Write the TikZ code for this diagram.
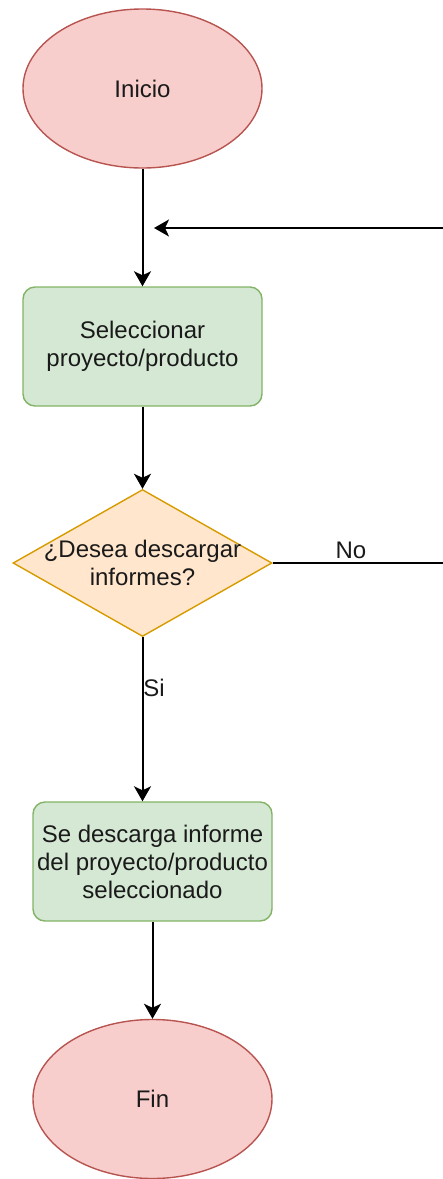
\documentclass[tikz,border=0pt]{standalone}
\usepackage{fontspec}
\setmainfont{Liberation Sans}
\usetikzlibrary{shapes.geometric,arrows.meta}
\definecolor{redfill}{HTML}{F8CECC}
\definecolor{redline}{HTML}{B85450}
\definecolor{greenfill}{HTML}{D5E8D4}
\definecolor{greenline}{HTML}{82B366}
\definecolor{orangefill}{HTML}{FFE6CC}
\definecolor{orangeline}{HTML}{D79B00}
\definecolor{txtcol}{HTML}{1A1A1A}
\begin{document}
\begin{tikzpicture}[x=0.5pt,y=-0.5pt,
 every node/.style={font=\fontsize{12}{14}\selectfont, text=txtcol},
 term/.style={ellipse, draw=redline, fill=redfill, line width=0.7pt, minimum width=119.5pt, minimum height=79.5pt, inner sep=0pt},
 procbox/.style={rectangle, rounded corners=6pt, draw=greenline, fill=greenfill, line width=0.7pt, minimum width=119.5pt, minimum height=59.5pt, align=center, inner sep=0pt},
 decision/.style={diamond, draw=orangeline, fill=orangefill, line width=0.7pt, minimum width=129.5pt, minimum height=73.5pt, inner sep=0pt, aspect=1.76},
 conn/.style={line width=1pt, black, -{Stealth[length=7.5pt,width=8.5pt,inset=2pt]}},
 plainline/.style={line width=1pt, black},
 lbl/.style={inner sep=0pt, align=center}]
\useasboundingbox (0,0) rectangle (443,1179);
\node[term] (inicio) at (142.5,88.5) {Inicio};
\node[procbox] (sel) at (142.5,346.5) {Seleccionar\\proyecto/producto};
\node[decision] (dec) at (142.5,563) {};
\node[lbl] (dectext) at (dec.center) {¿Desea descargar\\informes?};
\node[procbox] (desc) at (152.5,861.5) {Se descarga informe\\del proyecto/producto\\seleccionado};
\node[term] (fin) at (152.5,1099) {Fin};
\coordinate (noend) at (443,563);
\coordinate (loopstart) at (443,228);
\coordinate (loopend) at (154,228);
\draw[conn] (inicio) -- (sel);
\draw[conn] (loopstart) -- (loopend);
\draw[conn] (sel) -- (dec);
\draw[plainline] (dec.east) -- (noend);
\node[lbl] (nolabel) at (351,550) {No};
\draw[conn] (dec.south) -- (dec.south |- desc.north);
\node[lbl] (silabel) at (154,688) {Si};
\draw[conn] (desc) -- (fin);
\end{tikzpicture}
\end{document}
